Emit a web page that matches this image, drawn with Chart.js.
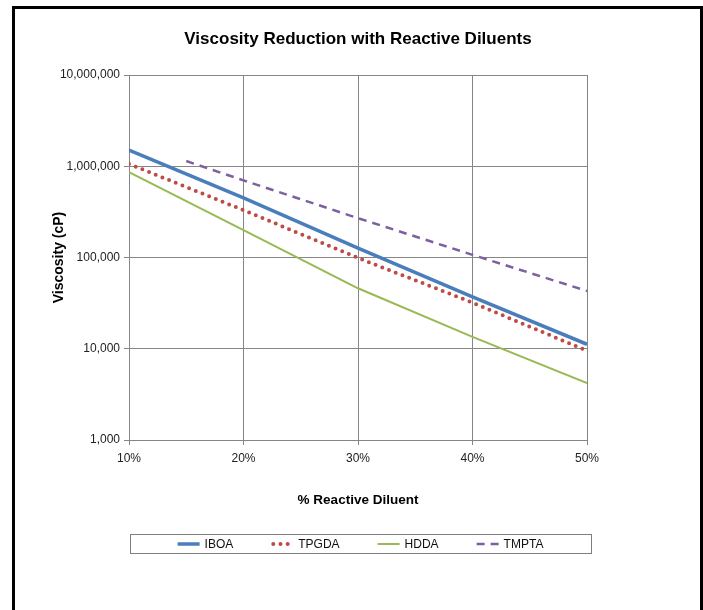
<!DOCTYPE html>
<html>
<head>
<meta charset="utf-8">
<script src="https://cdn.jsdelivr.net/npm/chart.js@4.4.1/dist/chart.umd.min.js"></script>
<style>
  html, body { margin: 0; padding: 0; background: #fff; }
  #wrap { position: relative; width: 703px; height: 610px; overflow: hidden; }
  #frame { position: absolute; left: 12px; top: 6px; width: 691px; height: 660px;
    box-sizing: border-box; border: 3px solid #000; pointer-events: none; }
</style>
</head>
<body>
<div id="wrap"><canvas id="c" width="703" height="610"></canvas><div id="frame"></div></div>
<script>
/* Viscosity vs % reactive diluent, log y axis. */
const pct = [10, 20, 30, 40, 50];
const pctTMPTA = [15, 20, 30, 40, 50];
const IBOA = [1500000, 450000, 127000, 37000, 11200];
const TPGDA = [1060000, 330000, 99000, 32000, 9500];
const HDDA = [860000, 200000, 46000, 13500, 4200];
const TMPTA = [1140000, 700000, 270000, 107000, 43000];
const yTicks = [1000, 10000, 100000, 1000000, 10000000];

const SANS = "'Liberation Sans', Arial, sans-serif";
const GRID = "#868686";

const pts = (xs, ys) => xs.map((x, i) => ({ x, y: ys[i] }));

// legend drawn in a framed box under the axis title
const boxLegend = {
  id: "boxLegend",
  afterDraw(chart) {
    const { ctx, chartArea: ca } = chart;
    const top = ca.bottom + 94, h = 19;
    const left = ca.left + 1, right = ca.right + 4;
    ctx.save();
    ctx.strokeStyle = "#7f7f7f"; ctx.lineWidth = 1;
    ctx.strokeRect(left + 0.5, top + 0.5, right - left, h);
    ctx.font = "12px " + SANS;
    ctx.textBaseline = "middle";
    const sw = 22, tg = 5, gap = 38;
    const ds = chart.data.datasets;
    const widths = ds.map(d => ctx.measureText(d.label).width);
    const total = widths.reduce((a, b) => a + b, 0) + ds.length * (sw + tg) + (ds.length - 1) * gap;
    let x = (left + right) / 2 - total / 2;
    const cy = top + h / 2 + 0.5;
    ds.forEach((d, i) => {
      ctx.beginPath();
      ctx.strokeStyle = d.borderColor; ctx.lineWidth = d.borderWidth;
      ctx.setLineDash(d.borderDash || []); ctx.lineCap = d.borderCapStyle || "butt";
      ctx.moveTo(x + (d.borderCapStyle === "round" ? 2 : 0), cy);
      ctx.lineTo(x + sw, cy); ctx.stroke();
      ctx.setLineDash([]);
      ctx.fillStyle = "#111";
      ctx.fillText(d.label, x + sw + tg, cy + 1);
      x += sw + tg + widths[i] + gap;
    });
    ctx.restore();
  },
};

new Chart(document.getElementById("c"), {
  type: "line",
  data: {
    datasets: [
      { label: "IBOA", data: pts(pct, IBOA), borderColor: "#4A7EBB", borderWidth: 3.5 },
      { label: "TPGDA", data: pts(pct, TPGDA), borderColor: "#BE4B48", borderWidth: 4,
        borderDash: [0, 7.2], borderCapStyle: "round" },
      { label: "HDDA", data: pts(pct, HDDA), borderColor: "#98B954", borderWidth: 2 },
      { label: "TMPTA", data: pts(pctTMPTA, TMPTA), borderColor: "#7D60A0", borderWidth: 2.5,
        borderDash: [8, 6] },
    ],
  },
  options: {
    responsive: false, animation: false,
    layout: { padding: { left: 8, right: 116, top: 0, bottom: 83 } },
    elements: { point: { radius: 0 }, line: { tension: 0, fill: false } },
    plugins: {
      legend: { display: false },
      tooltip: { enabled: false },
      title: {
        display: true, fullSize: false, text: "Viscosity Reduction with Reactive Diluents",
        color: "#000", font: { family: SANS, size: 17, weight: "bold" },
        padding: { top: 29, bottom: 25.6 },
      },
    },
    scales: {
      x: {
        type: "linear", min: 10, max: 50,
        grid: { color: GRID, tickLength: 5 },
        border: { color: GRID },
        ticks: { stepSize: 10, color: "#222", padding: 6, font: { family: SANS, size: 12 },
          callback: v => v + "%" },
        title: { display: true, text: "% Reactive Diluent", color: "#000",
          font: { family: SANS, size: 13.5, weight: "bold" }, padding: { top: 0, bottom: 19 } },
        afterFit: s => { s.height = 87; },
      },
      y: {
        type: "logarithmic", min: 1000, max: 10000000,
        afterBuildTicks: s => { s.ticks = yTicks.map(v => ({ value: v })); },
        grid: { color: GRID, tickLength: 5 },
        border: { color: GRID },
        ticks: { color: "#222", padding: 4, font: { family: SANS, size: 12 },
          callback: v => Number(v).toLocaleString("en-US") },
        title: { display: true, text: "Viscosity (cP)", color: "#000",
          font: { family: SANS, size: 14, weight: "bold" }, padding: { top: 42.6, bottom: 0 } },
        afterFit: s => { s.width = 121; },
      },
    },
  },
  plugins: [boxLegend],
});
</script>
</body>
</html>
